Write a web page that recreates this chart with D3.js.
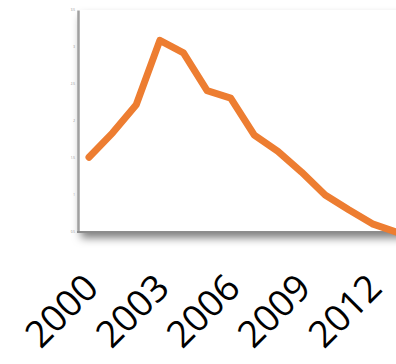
<!DOCTYPE html>
<html>
<head>
<meta charset="utf-8">
<script src="https://cdn.jsdelivr.net/npm/d3@7/dist/d3.min.js"></script>
<style>
  html, body { margin: 0; padding: 0; background: #fff; overflow: hidden; }
  svg { display: block; }
</style>
</head>
<body>
<svg id="chart" width="396" height="364"></svg>
<script>
// Yearly series
const years  = [2000, 2001, 2002, 2003, 2004, 2005, 2006, 2007, 2008, 2009, 2010, 2011, 2012, 2013];
const values = [1.51, 1.84, 2.22, 3.09, 2.92, 2.41, 2.31, 1.81, 1.59, 1.31, 1.0, 0.80, 0.61, 0.5];
const xTickYears = [2000, 2003, 2006, 2009, 2012];
const yTicks = [0.5, 1, 1.5, 2, 2.5, 3, 3.5];

const svg = d3.select("#chart");
const plotLeft = 78, plotTop = 10, plotBottom = 232;

const x = d3.scaleLinear().domain([2000, 2013]).range([89, 396]);
const y = d3.scaleLinear().domain([0.5, 3.5]).range([plotBottom, plotTop]);

// soft drop shadow under the plot panel
const defs = svg.append("defs");
const f = defs.append("filter").attr("id", "shadow")
  .attr("x", "-10%").attr("y", "-10%").attr("width", "130%").attr("height", "130%");
f.append("feDropShadow").attr("dx", 3).attr("dy", 6).attr("stdDeviation", 4)
  .attr("flood-color", "#000").attr("flood-opacity", 0.5);

svg.append("rect")
  .attr("x", plotLeft).attr("y", plotTop)
  .attr("width", 420 - plotLeft).attr("height", plotBottom - plotTop)
  .attr("fill", "#fff")
  .attr("filter", "url(#shadow)");

// y axis
const yAxis = svg.append("g")
  .attr("transform", `translate(${plotLeft},0)`)
  .call(d3.axisLeft(y).tickValues(yTicks).tickSize(0).tickPadding(3).tickFormat(d3.format("~g")));
yAxis.select(".domain").attr("stroke", "#a0a0a0").attr("stroke-width", 2.5);
yAxis.selectAll("text").attr("font-size", 3).attr("fill", "#888").attr("font-family", "Open Sans, sans-serif");

// x axis line
svg.append("line")
  .attr("x1", plotLeft - 1).attr("x2", 396)
  .attr("y1", plotBottom).attr("y2", plotBottom)
  .attr("stroke", "#8c8c8c").attr("stroke-width", 2);

// x axis labels
const xAxis = svg.append("g")
  .attr("transform", `translate(0,${plotBottom})`)
  .call(d3.axisBottom(x).tickValues(xTickYears).tickSize(0).tickFormat(d3.format("d")));
xAxis.select(".domain").remove();
xAxis.selectAll("text")
  .attr("font-size", 37)
  .attr("font-family", "Open Sans, sans-serif")
  .attr("fill", "#000")
  .attr("text-anchor", "end")
  .attr("dy", null)
  .attr("y", 0)
  .attr("transform", "translate(11,58) rotate(-45)");

// series line
svg.append("path")
  .datum(years.map((yr, i) => [yr, values[i]]))
  .attr("fill", "none")
  .attr("stroke", "#ED7D31")
  .attr("stroke-width", 7)
  .attr("stroke-linejoin", "round")
  .attr("stroke-linecap", "round")
  .attr("d", d3.line().x(d => x(d[0])).y(d => y(d[1])));
</script>
</body>
</html>
